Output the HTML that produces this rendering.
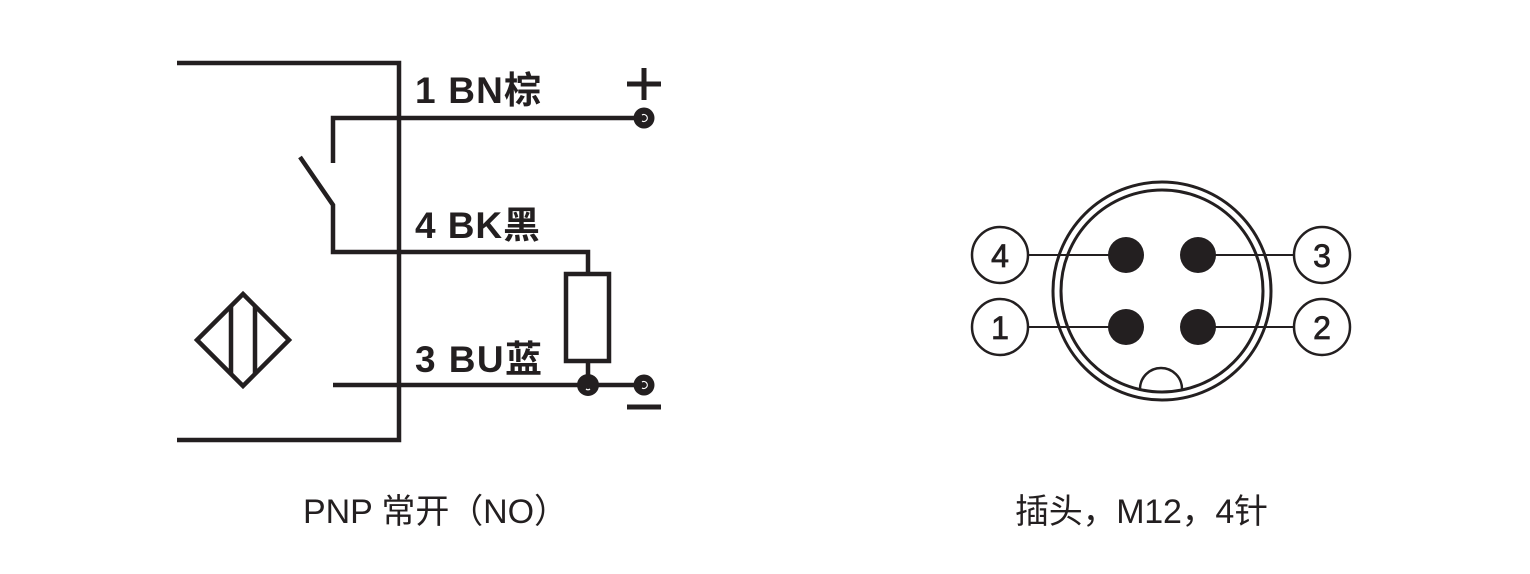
<!DOCTYPE html>
<html>
<head>
<meta charset="utf-8">
<style>
  html,body{margin:0;padding:0;background:#fff;}
  svg{display:block;}
</style>
</head>
<body>
<svg width="1530" height="574" viewBox="0 0 1530 574" xmlns="http://www.w3.org/2000/svg">
  <rect width="1530" height="574" fill="#fff"/>
  <g fill="none" stroke="#231f20" stroke-width="4.5" stroke-linejoin="miter" stroke-linecap="butt">
    <!-- housing -->
    <path d="M177,63 H399 V440 H177"/>
    <!-- BN wire with switch -->
    <path d="M333,163 V118 H644"/>
    <path d="M300,157 L333,205 V252 H588 V273"/>
    <!-- resistor -->
    <rect x="566" y="274" width="43" height="87"/>
    <path d="M588,361 V385"/>
    <!-- BU wire -->
    <path d="M333,385 H644"/>
    <!-- sensor diamond -->
    <path d="M243,294 L289,340 L243,386 L197,340 Z"/>
    <path d="M231,306 V374 M255,306 V374"/>
  </g>
  <!-- plus / minus -->
  <g stroke="#231f20" stroke-width="5">
    <path d="M627,84 H661 M644,68 V100"/>
    <path d="M627,407 H661"/>
  </g>
  <!-- dots -->
  <g fill="#231f20">
    <circle cx="588" cy="385" r="11"/>
    <circle cx="644" cy="118" r="10.5"/>
    <circle cx="644" cy="385" r="10.5"/>
  </g>
  <g fill="none" stroke="#fff" stroke-width="1.2">
    <path d="M642,115 A3.5,3.5 0 1 1 642,121"/>
    <path d="M642,382 A3.5,3.5 0 1 1 642,388"/>
    <path d="M586,389 A3,3 0 0 0 590,389"/>
  </g>
  <!-- wire labels -->
  <g font-family="'Liberation Sans','Noto Sans CJK SC',sans-serif" font-weight="bold" font-size="37" fill="#231f20">
    <text x="415" y="103" textLength="126" lengthAdjust="spacing">1 BN棕</text>
    <text x="415" y="238" textLength="125" lengthAdjust="spacing">4 BK黑</text>
    <text x="415" y="372" textLength="127" lengthAdjust="spacing">3 BU蓝</text>
  </g>

  <!-- connector -->
  <g fill="none" stroke="#231f20">
    <circle cx="1162" cy="291" r="109" stroke-width="3"/>
    <circle cx="1162" cy="291" r="101" stroke-width="3"/>
    <path d="M1140,389 A21,21 0 0 1 1182,389" stroke-width="2.5"/>
    <circle cx="1000" cy="255" r="28" stroke-width="2.5"/>
    <circle cx="1000" cy="327" r="28" stroke-width="2.5"/>
    <circle cx="1322" cy="255" r="28" stroke-width="2.5"/>
    <circle cx="1322" cy="327" r="28" stroke-width="2.5"/>
    <path d="M1028,255 H1126 M1198,255 H1294 M1028,327 H1126 M1198,327 H1294" stroke-width="2"/>
  </g>
  <g fill="#231f20">
    <circle cx="1126" cy="255" r="18"/>
    <circle cx="1198" cy="255" r="18"/>
    <circle cx="1126" cy="327" r="18"/>
    <circle cx="1198" cy="327" r="18"/>
  </g>
  <g font-family="'Liberation Sans',sans-serif" font-size="32" fill="#231f20" text-anchor="middle" stroke="#231f20" stroke-width="0.8">
    <text x="1000" y="267">4</text>
    <text x="1000" y="339">1</text>
    <text x="1322" y="267">3</text>
    <text x="1322" y="339">2</text>
  </g>

  <!-- captions -->
  <g font-family="'Liberation Sans','Noto Sans CJK SC',sans-serif" font-size="34" fill="#231f20">
    <text x="303" y="523" textLength="265" lengthAdjust="spacing">PNP 常开（NO）</text>
    <text x="1015" y="523" textLength="253" lengthAdjust="spacing">插头，M12，4针</text>
  </g>
</svg>
</body>
</html>
